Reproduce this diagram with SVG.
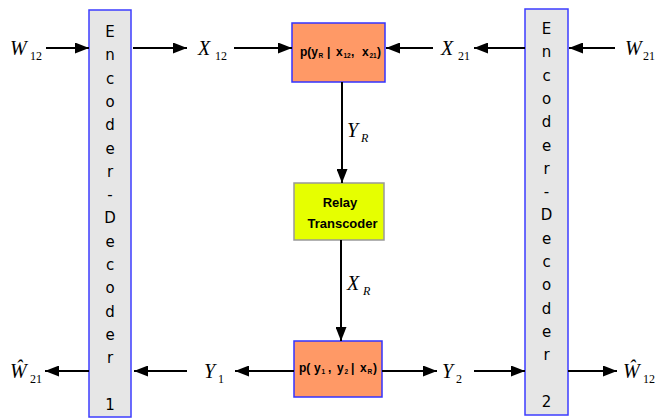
<svg xmlns="http://www.w3.org/2000/svg" width="662" height="418" viewBox="0 0 662 418">
<style>
.enc{fill:#e6e6e6;stroke:#3c3cff;stroke-width:1.5}
.chan{fill:#ff9966;stroke:#3333ff;stroke-width:1.5}
.relay{fill:#e6ff00;stroke:#999999;stroke-width:1.5}
.lt{font-family:"DejaVu Sans",sans-serif;font-size:15px;fill:#000;text-anchor:middle}
.m{font-family:"Liberation Serif",serif;font-style:italic;font-size:20px;fill:#000}
.s{font-style:normal;font-size:12px}
.si{font-size:12px}
.bx{font-family:"Liberation Sans",sans-serif;font-size:12px;font-weight:bold;fill:#000}
.bs{font-size:6.5px}
.rl{font-family:"Liberation Sans",sans-serif;font-size:13px;font-weight:bold;fill:#000;text-anchor:middle}
.c line{stroke:#000;stroke-width:2;marker-end:url(#ah)}
</style>
<defs>
<marker id="ah" markerUnits="userSpaceOnUse" markerWidth="14" markerHeight="11" refX="14" refY="5.5" orient="auto">
<path d="M0,0 L14,5.5 L0,11 z" fill="#000"/>
</marker>
</defs>
<rect width="662" height="418" fill="#fff"/>
<g id="encoder1">
<rect class="enc" x="89" y="10" width="42" height="407"/>
<text class="lt"><tspan x="110" y="37">E</tspan><tspan x="110" y="60.3">n</tspan><tspan x="110" y="83.6">c</tspan><tspan x="110" y="106.9">o</tspan><tspan x="110" y="130.2">d</tspan><tspan x="110" y="153.5">e</tspan><tspan x="110" y="176.8">r</tspan><tspan x="110" y="200.1">-</tspan><tspan x="110" y="223.4">D</tspan><tspan x="110" y="246.7">e</tspan><tspan x="110" y="270">c</tspan><tspan x="110" y="293.3">o</tspan><tspan x="110" y="316.6">d</tspan><tspan x="110" y="339.9">e</tspan><tspan x="110" y="363.2">r</tspan><tspan x="110" y="409.8">1</tspan></text>
</g>
<g id="encoder2">
<rect class="enc" x="525" y="9" width="43" height="406"/>
<text class="lt"><tspan x="546.5" y="34">E</tspan><tspan x="546.5" y="57.3">n</tspan><tspan x="546.5" y="80.6">c</tspan><tspan x="546.5" y="103.9">o</tspan><tspan x="546.5" y="127.2">d</tspan><tspan x="546.5" y="150.5">e</tspan><tspan x="546.5" y="173.8">r</tspan><tspan x="546.5" y="197.1">-</tspan><tspan x="546.5" y="220.4">D</tspan><tspan x="546.5" y="243.7">e</tspan><tspan x="546.5" y="267">c</tspan><tspan x="546.5" y="290.3">o</tspan><tspan x="546.5" y="313.6">d</tspan><tspan x="546.5" y="336.9">e</tspan><tspan x="546.5" y="360.2">r</tspan><tspan x="546.5" y="406.8">2</tspan></text>
</g>
<g id="channel-up">
<rect class="chan" x="292" y="23" width="93" height="59"/>
<text class="bx" y="56"><tspan x="300">p(y</tspan><tspan class="bs" x="318.5" dy="2">R</tspan><tspan x="327" dy="-2">|</tspan><tspan x="336">x</tspan><tspan class="bs" x="343.5" dy="2">12</tspan><tspan x="351" dy="-2">,</tspan><tspan x="362">x</tspan><tspan class="bs" x="369.5" dy="2">21</tspan><tspan x="377" dy="-2">)</tspan></text>
</g>
<g id="relay">
<rect class="relay" x="294" y="183" width="90" height="57"/>
<text class="rl" x="340" y="207">Relay</text>
<text class="rl" x="342.5" y="228">Transcoder</text>
</g>
<g id="channel-down">
<rect class="chan" x="294" y="341" width="88" height="56"/>
<text class="bx" y="372"><tspan x="299">p(</tspan><tspan x="314">y</tspan><tspan class="bs" x="321.5" dy="2">1</tspan><tspan x="328" dy="-2">,</tspan><tspan x="337">y</tspan><tspan class="bs" x="344.5" dy="2">2</tspan><tspan x="351" dy="-2">|</tspan><tspan x="360">x</tspan><tspan class="bs" x="367.5" dy="2">R</tspan><tspan x="373" dy="-2">)</tspan></text>
</g>
<g id="labels">
<text class="m" x="10" y="55">W<tspan class="s" x="30" y="60">12</tspan></text>
<text class="m" x="198" y="55">X<tspan class="s" x="215" y="60">12</tspan></text>
<text class="m" x="441" y="55">X<tspan class="s" x="458" y="60">21</tspan></text>
<text class="m" x="625" y="55">W<tspan class="s" x="643" y="60">21</tspan></text>
<text class="m" x="347" y="137">Y<tspan class="si" x="361" y="142">R</tspan></text>
<text class="m" x="347" y="290">X<tspan class="si" x="363" y="295">R</tspan></text>
<text class="m" x="10" y="378">Ŵ<tspan class="s" x="30" y="383">21</tspan></text>
<text class="m" x="204" y="378">Y<tspan class="s" x="218" y="383">1</tspan></text>
<text class="m" x="442" y="378">Y<tspan class="s" x="456" y="383">2</tspan></text>
<text class="m" x="623" y="378">Ŵ<tspan class="s" x="643" y="383">12</tspan></text>
</g>
<g id="connectors" class="c">
<line x1="46" y1="48" x2="89" y2="48"/>
<line x1="133" y1="48" x2="187" y2="48"/>
<line x1="234" y1="48" x2="292" y2="48"/>
<line x1="433" y1="48" x2="386" y2="48"/>
<line x1="525" y1="48" x2="474" y2="48"/>
<line x1="615" y1="48" x2="569" y2="48"/>
<line x1="342" y1="82" x2="342" y2="183"/>
<line x1="341" y1="240" x2="341" y2="341"/>
<line x1="294" y1="371" x2="235" y2="371"/>
<line x1="187" y1="371" x2="134" y2="371"/>
<line x1="89" y1="371" x2="45" y2="371"/>
<line x1="382" y1="371" x2="437" y2="371"/>
<line x1="474" y1="371" x2="525" y2="371"/>
<line x1="568" y1="371" x2="617" y2="371"/>
</g>
</svg>
